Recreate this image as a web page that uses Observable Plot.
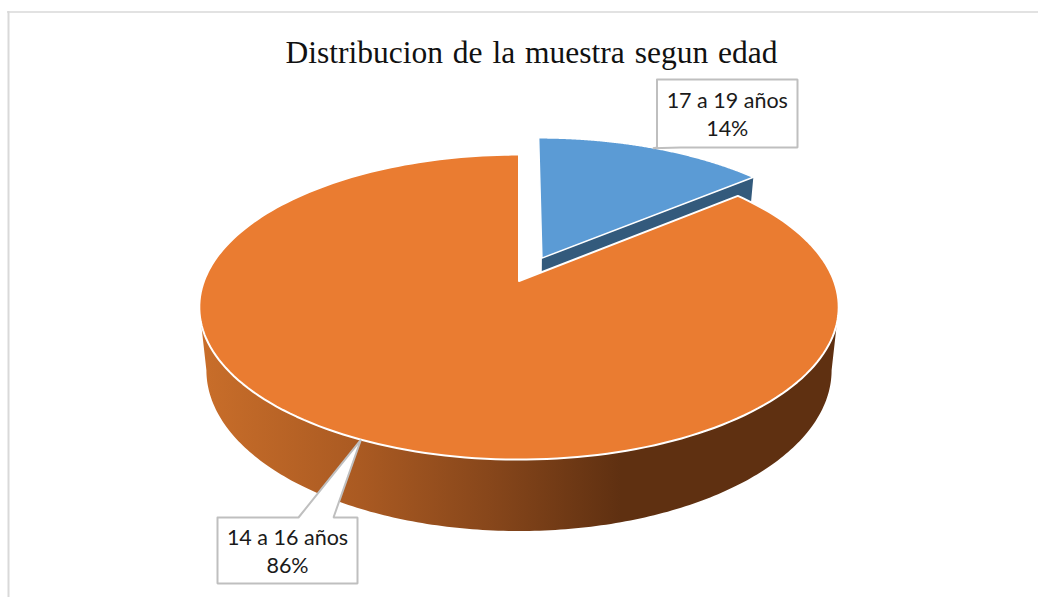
<!DOCTYPE html>
<html>
<head>
<meta charset="utf-8">
<script src="https://cdn.jsdelivr.net/npm/d3@7"></script>
<script src="https://cdn.jsdelivr.net/npm/@observablehq/plot@0.6"></script>
<style>
html,body{margin:0;padding:0;background:#fff;overflow:hidden}
svg{display:block}
g[font-family="Liberation Serif"]{word-spacing:2px}
</style>
</head>
<body>
<div id="chart"></div>
<script>
// Data
const categories = ["17 a 19 años", "14 a 16 años"];
const shares = [14, 86];
const titleText = "Distribucion de la muestra segun edad";

// Styles
const sliceColors = ["#5b9bd5", "#ea7c31"];
const blueSide = "#335a7c";
const gradOffsets = [0, 0.25, 0.45, 0.66, 1];
const gradColors = ["#c96e2a", "#aa5a22", "#88471b", "#5f3011", "#5f3011"];

// Perspective of the pie (unit circle to chart units)
const cx = 519, k = 0.171;
const topPlane = {b: 315, y0: 281, a: 100};
const botPlane = {b: 308, y0: 342.7, a: 97.5};
const explode = 0.1755;

const project = (plane, u, v) => {
  const w = 1 + k * v;
  return [cx + plane.b * u / w, (plane.y0 - plane.a * v) / w];
};
const rim = (plane, deg, ox = 0, oy = 0) => {
  const t = deg * Math.PI / 180;
  return project(plane, ox + Math.sin(t), oy + Math.cos(t));
};
const range = (a, b, n = 200) => d3.range(n + 1).map(i => a + (b - a) * i / n);

// Angles from the shares
const splitDeg = shares[0] / 100 * 360;
const midBlue = splitDeg / 2;
const midOrange = (splitDeg + 360) / 2;
const ox = explode * Math.sin(midBlue * Math.PI / 180);
const oy = explode * Math.cos(midBlue * Math.PI / 180);

const wedge = (a, b, ex, ey) => {
  const c = project(topPlane, ex, ey);
  return range(a, b).map(d => {
    const p = rim(topPlane, d, ex, ey);
    return {x1: c[0], y1: c[1], x2: p[0], y2: p[1]};
  });
};

const orangeTop = wedge(splitDeg, 360, 0, 0);
const blueTop = wedge(0, splitDeg, ox, oy);

// Outer wall between silhouette angles
const silh = Math.acos(-k) * 180 / Math.PI;
const wall = range(silh, 360 - silh).map(d => {
  const p = rim(topPlane, d), q = rim(botPlane, d);
  return {x1: p[0], y1: p[1], x2: q[0], y2: q[1]};
});

// Cut side of the exploded slice
const tEnd = splitDeg * Math.PI / 180;
const blueCut = d3.range(0, 1.001, 0.1).map(f => {
  const u = ox + f * Math.sin(tEnd), v = oy + f * Math.cos(tEnd);
  const p = project(topPlane, u, v), q = project(botPlane, u, v);
  return {x1: p[0], y1: p[1], x2: q[0], y2: q[1]};
});

// Callouts: box placement, with the tail tip taken from each slice's mid angle
const calloutBoxes = [
  {l: 656.5, r: 797, t: 79, b: 147, tail: [657, 680], top: false},
  {l: 217, r: 357, t: 517, b: 583, tail: [298, 333], top: true}
];
const tips = [rim(topPlane, midBlue, ox, oy), rim(topPlane, midOrange)];
const calloutPath = (box, tip) => {
  const {l, r, t, b, tail} = box;
  const pts = box.top
    ? [[l, t], [tail[0], t], tip, [tail[1], t], [r, t], [r, b], [l, b], [l, t]]
    : [[l, t], [r, t], [r, b], [tail[1], b], tip, [tail[0], b], [l, b], [l, t]];
  return pts.map(([x, y]) => ({x, y}));
};
const labels = categories.map((c, i) => ({
  x: (calloutBoxes[i].l + calloutBoxes[i].r) / 2,
  y: (calloutBoxes[i].t + calloutBoxes[i].b) / 2,
  text: `${c}\n${shares[i]}%`
}));

const gradient = () => {
  const defs = d3.create("svg:defs");
  const g = defs.append("linearGradient").attr("id", "wallGrad")
    .attr("x1", 0).attr("x2", 1).attr("y1", 0).attr("y2", 0);
  gradOffsets.forEach((o, i) => g.append("stop").attr("offset", o).attr("stop-color", gradColors[i]));
  return defs.node();
};

const area = (data, fill, extra = {}) => Plot.area(data, {
  x1: "x1", y1: "y1", x2: "x2", y2: "y2", fill, ...extra
});

const chart = Plot.plot({
  width: 1038,
  height: 597,
  margin: 0,
  style: {background: "#fff", overflow: "hidden"},
  x: {domain: [0, 1038], range: [0, 1038], axis: null},
  y: {domain: [0, 597], range: [0, 597], axis: null},
  marks: [
    gradient,
    Plot.ruleY([11.5], {x1: 7, x2: 1038, stroke: "#d9d9d9", strokeWidth: 1.5}),
    Plot.ruleX([8], {y1: 11, y2: 597, stroke: "#d9d9d9", strokeWidth: 2}),
    area(blueCut, blueSide),
    area(blueTop, sliceColors[0], {stroke: "#fff", strokeWidth: 1.5}),
    area(wall, "url(#wallGrad)"),
    area(orangeTop, sliceColors[1], {stroke: "#fff", strokeWidth: 2}),
    ...calloutBoxes.map((box, i) => Plot.line(calloutPath(box, tips[i]), {
      x: "x", y: "y", fill: "#fff", stroke: "#bfbfbf", strokeWidth: 2,
      strokeLinejoin: "miter", curve: "linear"
    })),
    Plot.text(labels, {
      x: "x", y: "y", dy: -0.5, text: "text", fontFamily: "Lato", fontSize: 21.5,
      lineHeight: 1.32, fill: "#1a1a1a", textAnchor: "middle"
    }),
    Plot.text([titleText], {
      x: [531], y: [52], fontFamily: "Liberation Serif", fontSize: 31.5,
      fill: "#111", textAnchor: "middle"
    })
  ]
});
document.getElementById("chart").appendChild(chart);
</script>
</body>
</html>
